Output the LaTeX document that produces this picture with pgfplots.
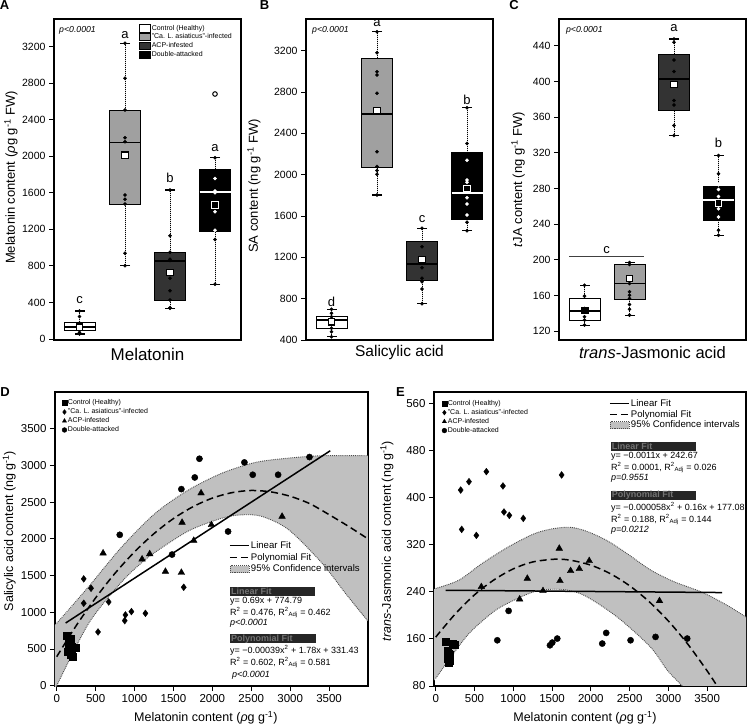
\documentclass[border=0pt]{standalone}
\usepackage{fontspec}
\setmainfont{Liberation Sans}
\usepackage{pgfplots}
\pgfplotsset{compat=1.18}
\usepgfplotslibrary{statistics}
\newcommand{\fs}[1]{\fontsize{#1}{#1}\selectfont}
\definecolor{gbox}{HTML}{A0A0A0}
\definecolor{dbox}{HTML}{333333}
\definecolor{band}{HTML}{C0C0C0}
\pgfplotsset{
  boxax/.style={scale only axis, width=187pt, height=321pt, xmin=0, xmax=187, xtick=\empty,
    ytick pos=left, tick align=outside, major tick length=5pt, axis line style={line width=1.3pt},
    tick style={line width=0.9pt, black}, clip=false, yticklabel style={font=\fs{10.5}},
    /pgf/number format/assume math mode=true, /pgf/number format/1000 sep={}},
  bxs/.style={forget plot, draw=black, line width=0.8pt, boxplot/draw direction=y, boxplot/box extend=31, boxplot/whisker extend=0,
    boxplot/every whisker/.style={densely dotted, line width=1pt, black},
    boxplot/every median/.style={line width=1.8pt, black}},
  dots/.style={only marks, mark=*, mark size=1.6pt, black, forget plot},
  wdots/.style={only marks, mark=*, mark size=1.6pt, white, forget plot},
  caps/.style={only marks, mark=-, mark size=5pt, mark options={line width=1.2pt}, black, forget plot},
  means/.style={only marks, mark=square*, mark size=3.2pt, mark options={draw=black, fill=white, line width=1.2pt}, forget plot},
  wmeans/.style={only marks, mark=square*, mark size=3.2pt, mark options={draw=white, fill=black, line width=1.2pt}, forget plot},
  scax/.style={scale only axis, width=313pt, height=294pt, xmin=-22, xmax=4000,
    xtick={0,500,...,3500}, xtick pos=left, ytick pos=left, tick align=outside, major tick length=5pt,
    axis line style={line width=1.3pt}, tick style={line width=0.9pt,black},
    ticklabel style={font=\fs{11.5}}, /pgf/number format/assume math mode=true, /pgf/number format/1000 sep={},
    legend cell align=left,
    legend image code/.code={\draw[##1] plot coordinates {(3pt,0pt)};},
    legend image post style={mark size=2.4pt},
    legend style={draw=none, fill=none, font=\fs{7}, row sep=0.2pt, inner sep=0pt, nodes={inner sep=1.1pt}}},
  bdry/.style={smooth, densely dotted, line width=0.9pt, black!70, forget plot},
  fitleg/.style={scale only axis, width=313pt, height=294pt, hide axis, xmin=0, xmax=1, ymin=0, ymax=1,
    legend cell align=left,
    legend style={draw=none, fill=none, font=\fs{9.6}, row sep=1pt, inner sep=0pt, nodes={inner sep=1.2pt}},
    legend image code/.code={\draw[##1] (0pt,0pt) -- (19pt,0pt);}},
}
\begin{document}
\begin{tikzpicture}
\useasboundingbox (0pt,0pt) rectangle (748pt,-727pt);

% ---------------- Panel A ----------------
\begin{axis}[boxax, at={(54pt,-340pt)}, anchor=south west, ymin=-11, ymax=3503, ytick={0,400,...,3200},
  ylabel={Melatonin content (\textit{ρ}g g\textsuperscript{-1} FW)},
  ylabel style={font=\fs{13}, at={(axis description cs:-0.23,0.506)}, anchor=center},
  xlabel={Melatonin}, xlabel style={font=\fs{17}, at={(axis description cs:0.5,-0.045)}, anchor=center},
  legend cell align=left,
  legend style={at={(axis description cs:0.455,0.985)}, anchor=north west, draw=none, fill=none, font=\fs{7}, row sep=0.3pt, inner sep=0pt, nodes={inner sep=1pt}},
  legend image code/.code={\draw[#1] (0pt,-3.7pt) rectangle (10.7pt,3.7pt);}]
\addlegendimage{fill=white, draw=black, line width=0.8pt}\addlegendentry{Control (Healthy)}
\addlegendimage{fill=gbox, draw=black, line width=0.8pt}\addlegendentry{"Ca. L. asiaticus"-infected}
\addlegendimage{fill=dbox, draw=black, line width=0.8pt}\addlegendentry{ACP-infested}
\addlegendimage{fill=black, draw=black, line width=0.8pt}\addlegendentry{Double-attacked}
\addplot[boxplot prepared={draw position=25.5, lower whisker=55, lower quartile=91, median=135, upper quartile=183, upper whisker=307}, bxs, fill=white] coordinates {};
\addplot[boxplot prepared={draw position=71, lower whisker=803, lower quartile=1478, median=2151, upper quartile=2507, upper whisker=3237}, bxs, fill=gbox] coordinates {};
\addplot[boxplot prepared={draw position=116, lower whisker=336, lower quartile=427, median=857, upper quartile=949, upper whisker=1631}, bxs, fill=dbox] coordinates {};
\addplot[boxplot prepared={draw position=161, lower whisker=599, lower quartile=1175, median=1613, upper quartile=1857, upper whisker=1985}, bxs, fill=black, boxplot/every median/.style={draw=white, line width=1.8pt}] coordinates {};
\addplot[caps] coordinates {(25.5,55) (25.5,307) (71,803) (71,3237) (116,336) (116,1631) (161,599) (161,1985)};
\addplot[dots] coordinates {(25.5,307) (25.5,245) (25.5,175) (25.5,150) (25.5,140) (25.5,130) (25.5,115) (25.5,95) (25.5,70) (25.5,55)
  (71,3237) (71,2854) (71,2507) (71,2204) (71,2160) (71,1576) (71,1529) (71,1478) (71,938) (71,803)
  (116,1631) (116,1131) (116,949) (116,872) (116,860) (116,664) (116,529) (116,427) (116,343) (116,336)
  (161,1985) (161,1088) (161,599)};
\addplot[wdots] coordinates {(161,1758) (161,1620) (161,1600) (161,1394) (161,1190)};
\addplot[only marks, mark=*, mark size=2.3pt, mark options={draw=black, fill=white, line width=1pt}, forget plot] coordinates {(161,2682)};
\addplot[means] coordinates {(25.5,130) (71,2011) (116,730)};
\addplot[wmeans] coordinates {(161,1467)};
\node[font=\fs{13}] at (axis cs:71,3330) {a};
\node[font=\fs{13}] at (axis cs:116,1759) {b};
\node[font=\fs{13}] at (axis cs:161,2088) {a};
\node[font=\fs{13}] at (axis cs:25.5,427) {c};
\node[font=\itshape\fs{8.7}, anchor=west, inner sep=0pt] at (axis description cs:0.027,0.966) {p<0.0001};
\end{axis}

% ---------------- Panel B ----------------
\begin{axis}[boxax, at={(306pt,-340pt)}, anchor=south west, ymin=400, ymax=3507, ytick={400,800,...,3200},
  ylabel={SA content (ng g\textsuperscript{-1} FW)},
  ylabel style={font=\fs{13}, at={(axis description cs:-0.278,0.48)}, anchor=center},
  xlabel={Salicylic acid}, xlabel style={font=\fs{15.5}, at={(axis description cs:0.5,-0.04)}, anchor=center}]
\addplot[boxplot prepared={draw position=25.5, lower whisker=432, lower quartile=513, median=594, upper quartile=626, upper whisker=697}, bxs, fill=white] coordinates {};
\addplot[boxplot prepared={draw position=71, lower whisker=1803, lower quartile=2068, median=2584, upper quartile=3126, upper whisker=3384}, bxs, fill=gbox] coordinates {};
\addplot[boxplot prepared={draw position=116, lower whisker=751, lower quartile=981, median=1139, upper quartile=1351, upper whisker=1481}, bxs, fill=dbox] coordinates {};
\addplot[boxplot prepared={draw position=161, lower whisker=1458, lower quartile=1571, median=1820, upper quartile=2213, upper whisker=2648}, bxs, fill=black, boxplot/every median/.style={draw=white, line width=1.8pt}] coordinates {};
\addplot[caps] coordinates {(25.5,432) (25.5,697) (71,1803) (71,3384) (116,751) (116,1481) (161,1458) (161,2648)};
\addplot[dots] coordinates {(25.5,697) (25.5,658) (25.5,626) (25.5,603) (25.5,580) (25.5,562) (25.5,548) (25.5,513) (25.5,480) (25.5,432)
  (71,3384) (71,3181) (71,2997) (71,2965) (71,2788) (71,2223) (71,2080) (71,2040) (71,2004) (71,1803)
  (116,1481) (116,1303) (116,1160) (116,1100) (116,997) (116,964) (116,894) (116,751)
  (161,2648) (161,2303) (161,1539) (161,1458)};
\addplot[wdots] coordinates {(161,2139) (161,1949) (161,1926) (161,1777) (161,1716) (161,1610)};
\addplot[means] coordinates {(25.5,577) (71,2623) (116,1181)};
\addplot[wmeans] coordinates {(161,1864)};
\node[font=\fs{13}] at (axis cs:71,3465) {a};
\node[font=\fs{13}] at (axis cs:116,1571) {c};
\node[font=\fs{13}] at (axis cs:161,2723) {b};
\node[font=\fs{13}] at (axis cs:25.5,771) {d};
\node[font=\itshape\fs{8.7}, anchor=west, inner sep=0pt] at (axis description cs:0.032,0.966) {p<0.0001};
\end{axis}

% ---------------- Panel C ----------------
\begin{axis}[boxax, at={(559pt,-340pt)}, anchor=south west, ymin=110, ymax=470, ytick={120,160,...,440},
  ylabel={\textit{t}JA content (ng g\textsuperscript{-1} FW)},
  ylabel style={font=\fs{13}, at={(axis description cs:-0.219,0.5)}, anchor=center},
  xlabel={\textit{trans}-Jasmonic acid}, xlabel style={font=\fs{16.5}, at={(axis description cs:0.5,-0.04)}, anchor=center}]
\addplot[line width=1.2pt, black!75, forget plot] coordinates {(10.3,203.9) (85.3,203.9)};
\addplot[boxplot prepared={draw position=25.5, lower whisker=126.7, lower quartile=132.3, median=142.4, upper quartile=156.6, upper whisker=171.5}, bxs, fill=white] coordinates {};
\addplot[boxplot prepared={draw position=70.5, lower whisker=137.9, lower quartile=155.8, median=173.3, upper quartile=194.6, upper whisker=196.8}, bxs, fill=gbox] coordinates {};
\addplot[boxplot prepared={draw position=115, lower whisker=339.3, lower quartile=367.3, median=402.7, upper quartile=430.3, upper whisker=447.5}, bxs, fill=dbox] coordinates {};
\addplot[boxplot prepared={draw position=159.5, lower whisker=227.4, lower quartile=244.2, median=267.3, upper quartile=282.3, upper whisker=316.9}, bxs, fill=black, boxplot/every median/.style={draw=white, line width=1.8pt}] coordinates {};
\addplot[caps] coordinates {(25.5,126.7) (25.5,171.5) (70.5,137.9) (70.5,196.8) (115,339.3) (115,447.5) (159.5,227.4) (159.5,316.9)};
\addplot[dots] coordinates {(25.5,171.5) (25.5,159.2) (25.5,145.4) (25.5,143.5) (25.5,141.6) (25.5,136) (25.5,132.3) (25.5,126.7)
  (70.5,196.8) (70.5,194.6) (70.5,173.3) (70.5,164) (70.5,160.3) (70.5,156.6) (70.5,149.8) (70.5,144.6) (70.5,137.9)
  (115,447.5) (115,443.8) (115,424) (115,411) (115,378.5) (115,373.6) (115,350.5) (115,339.3)
  (159.5,316.9) (159.5,296.4) (159.5,233) (159.5,227.4)};
\addplot[wdots] coordinates {(159.5,284) (159.5,278.8) (159.5,271) (159.5,262.9) (159.5,257.3) (159.5,248)};
\addplot[only marks, mark=square*, mark size=3.2pt, black, forget plot] coordinates {(25.5,143.5)};
\addplot[means] coordinates {(70.5,178.9) (115,396.4)};
\addplot[wmeans] coordinates {(159.5,263.6)};
\node[font=\fs{13}] at (axis cs:115,459.4) {a};
\node[font=\fs{13}] at (axis cs:159.5,330.7) {b};
\node[font=\fs{13}] at (axis cs:47.5,211.4) {c};
\node[font=\itshape\fs{8.7}, anchor=west, inner sep=0pt] at (axis description cs:0.037,0.966) {p<0.0001};
\end{axis}

% ---------------- Panel D ----------------
\begin{axis}[scax, at={(55pt,-686pt)}, anchor=south west, ymin=-4, ymax=4000, ytick={0,500,...,3500},
  xlabel={Melatonin content (\textit{ρ}g g\textsuperscript{-1})},
  xlabel style={font=\fs{12.5}, at={(axis description cs:0.482,-0.109)}, anchor=center},
  ylabel={Salicylic acid content (ng g\textsuperscript{-1})},
  ylabel style={font=\fs{12.5}, at={(axis description cs:-0.146,0.527)}, anchor=center},
  legend style={at={(axis description cs:0.022,0.978)}, anchor=north west}]
\addplot[smooth, fill=band, draw=none, forget plot] coordinates {
  (-300,600) (0,850) (411,1350) (840,1895) (1268,2350) (1697,2668) (2125,2895) (2554,3041) (2982,3100) (3410,3132) (4000,3132) (4300,3132)
  (4300,650) (4000,880) (3710,1259) (3410,1668) (2982,2123) (2639,2305) (2382,2327) (2125,2282) (1697,2110) (1268,1820) (1097,1680) (840,1420) (411,850) (0,0) (-300,-600)} -- cycle;
\addplot[bdry] coordinates {
  (0,850) (411,1350) (840,1895) (1268,2350) (1697,2668) (2125,2895) (2554,3041) (2982,3100) (3410,3132) (4000,3132)};
\addplot[bdry] coordinates {
  (0,0) (411,850) (840,1420) (1097,1680) (1268,1820) (1697,2110) (2125,2282) (2382,2327) (2639,2305) (2982,2123) (3410,1668) (3710,1259) (4000,880)};
\addplot[line width=1.5pt, black, forget plot] coordinates {(115,854) (3515,3200)};
\addplot[smooth, line width=1.5pt, black, dash pattern=on 7pt off 4pt, forget plot] coordinates {
  (0,395) (250,817) (500,1196) (750,1532) (1000,1823) (1250,2071) (1500,2276) (1750,2437) (2000,2555) (2250,2629) (2500,2659) (2750,2640) (3000,2580) (3250,2480) (3500,2330) (3750,2170) (4000,2000)};
\addplot[only marks, mark=square*, mark size=3.6pt, black] coordinates {(133,677) (176,645) (154,577) (197,532) (240,523) (146,464) (176,418) (206,395) (163,614) (189,486)};
\addlegendentry{Control (Healthy)}
\addplot[only marks, mark=diamond*, mark size=3.4pt, black] coordinates {(347,1455) (441,1327) (347,1123) (668,1141) (531,732) (883,964) (960,1009) (874,886) (1140,986) (1632,1341)};
\addlegendentry{"Ca. L. asiaticus"-infected}
\addplot[only marks, mark=triangle*, mark size=3.8pt, black] coordinates {(596,1805) (1097,1723) (1195,1795) (1397,1555) (1602,1541) (1611,2223) (1761,1977) (1855,2623) (1988,2191) (2896,2305)};
\addlegendentry{ACP-infested}
\addplot[only marks, mark=*, mark size=3.1pt, black] coordinates {(810,2055) (1482,1786) (1602,2677) (1774,2836) (1834,3091) (2202,2100) (2412,3041) (2519,2873) (2845,2873) (3248,3114)};
\addlegendentry{Double-attacked}
\end{axis}
\begin{axis}[fitleg, at={(55pt,-686pt)}, anchor=south west,
  legend style={at={(axis description cs:0.556,0.497)}, anchor=north west}]
\addplot[draw=none, forget plot] coordinates {(0,0) (1,1)};
\addlegendimage{line width=1.5pt, black}\addlegendentry{Linear Fit}
\addlegendimage{line width=1.5pt, black, dash pattern=on 7pt off 4pt}\addlegendentry{Polynomial Fit}
\addlegendimage{legend image code/.code={\draw[fill=band, draw=black!70, densely dotted, line width=0.9pt] (0pt,-3.5pt) rectangle (19pt,3.5pt);}}\addlegendentry{95\% Confidence intervals}
\end{axis}

% ---------------- Panel E ----------------
\begin{axis}[scax, at={(434pt,-686pt)}, anchor=south west, width=312pt, ymin=80, ymax=579, ytick={80,160,...,560},
  xlabel={Melatonin content (\textit{ρ}g g\textsuperscript{-1})},
  xlabel style={font=\fs{12.5}, at={(axis description cs:0.484,-0.109)}, anchor=center},
  ylabel={\textit{trans}-Jasmonic acid content (ng g\textsuperscript{-1})},
  ylabel style={font=\fs{12.5}, at={(axis description cs:-0.151,0.493)}, anchor=center},
  legend style={at={(axis description cs:0.025,0.976)}, anchor=north west}]
\addplot[smooth, fill=band, draw=none, forget plot] coordinates {
  (-300,230) (0,245.5) (299,259.6) (598,288) (939,316.3) (1280,339) (1536,347.5) (1750,349.2) (1963,341.8) (2219,326) (2475,304) (2769,277) (3073,257) (3436,239) (3756,217) (4000,197) (4300,170)
  (4300,-120) (4000,-60) (3700,-5) (3400,45) (3177,80) (2984,107) (2769,146) (2340,197) (1911,234) (1610,244) (1267,240) (837,214) (598,190) (408,166) (200,130) (0,93) (-300,40)} -- cycle;
\addplot[bdry] coordinates {
  (0,245.5) (299,259.6) (598,288) (939,316.3) (1280,339) (1536,347.5) (1750,349.2) (1963,341.8) (2219,326) (2475,304) (2769,277) (3073,257) (3436,239) (3756,217) (4000,197)};
\addplot[bdry] coordinates {
  (0,93) (200,130) (408,166) (598,190) (837,214) (1267,240) (1610,244) (1911,234) (2340,197) (2769,146) (2984,107) (3177,80) (3400,45)};
\addplot[line width=1.5pt, black, forget plot] coordinates {(129,242.5) (3693,238.6)};
\addplot[smooth, line width=1.5pt, black, dash pattern=on 7pt off 4pt, forget plot] coordinates {
  (0,163) (250,202) (500,234.7) (750,260) (1000,278.8) (1250,290.5) (1546,295.3) (1750,293.2) (2000,285.1) (2250,270.7) (2500,250.1) (2750,223.3) (3000,190.2) (3250,151) (3500,105.5) (3628,80) (3700,65)};
\addplot[only marks, mark=square*, mark size=3.6pt, black] coordinates {(129,155) (215,152) (245,150) (150,140) (170,135) (160,130) (150,126) (175,123) (165,120) (185,133)};
\addlegendentry{Control (Healthy)}
\addplot[only marks, mark=diamond*, mark size=3.4pt, black] coordinates {(322,412.6) (429,426.8) (653,443.8) (867,419.5) (1623,438.2) (335,345.8) (524,335.6) (880,375.3) (949,369.6) (1129,364.5)};
\addlegendentry{"Ca. L. asiaticus"-infected}
\addplot[only marks, mark=triangle*, mark size=3.8pt, black] coordinates {(588,248.3) (1082,227.3) (1181,262.5) (1383,241.5) (1593,313.5) (1602,258.5) (1739,275.5) (1851,278.9) (1979,292.5) (2885,224.5)};
\addlegendentry{ACP-infested}
\addplot[only marks, mark=*, mark size=3.1pt, black] coordinates {(940,207.5) (794,157.6) (1473,149.1) (1503,153.7) (1567,160.5) (2147,152) (2198,170.1) (2512,157.6) (2834,163.3) (3242,160.5)};
\addlegendentry{Double-attacked}
\end{axis}
\begin{axis}[fitleg, at={(434pt,-686pt)}, anchor=south west, width=312pt,
  legend style={at={(axis description cs:0.561,0.98)}, anchor=north west, row sep=0pt}]
\addplot[draw=none, forget plot] coordinates {(0,0) (1,1)};
\addlegendimage{line width=1.5pt, black}\addlegendentry{Linear Fit}
\addlegendimage{line width=1.5pt, black, dash pattern=on 7pt off 4pt}\addlegendentry{Polynomial Fit}
\addlegendimage{legend image code/.code={\draw[fill=band, draw=black!70, densely dotted, line width=0.9pt] (0pt,-3.5pt) rectangle (19pt,3.5pt);}}\addlegendentry{95\% Confidence intervals}
\end{axis}

% ---------------- annotations ----------------
\begin{scope}[every node/.style={inner sep=0pt, anchor=west, font=\fs{9}}]
\fill[black!85] (230pt,-587pt) rectangle (315pt,-596pt);
\node[font=\bfseries\fs{9}, text=black!55] at (231pt,-591.5pt) {Linear Fit};
\node at (230pt,-601.7pt) {y= 0.69x + 774.79};
\node at (230pt,-612.7pt) {R\textsuperscript{2} = 0.476, R\textsuperscript{2}\textsubscript{Adj} = 0.462};
\node[font=\itshape\fs{9}] at (230pt,-623pt) {p<0.0001};
\fill[black!85] (230pt,-634.3pt) rectangle (316pt,-643.3pt);
\node[font=\bfseries\fs{9}, text=black!55] at (231pt,-638.8pt) {Polynomial Fit};
\node at (230pt,-650.7pt) {y= −0.00039x\textsuperscript{2} + 1.78x + 331.43};
\node at (230pt,-662.3pt) {R\textsuperscript{2} = 0.602, R\textsuperscript{2}\textsubscript{Adj} = 0.581};
\node[font=\itshape\fs{9}] at (232pt,-675pt) {p<0.0001};

\fill[black!85] (610.7pt,-441.7pt) rectangle (695.7pt,-451pt);
\node[font=\bfseries\fs{9}, text=black!55] at (611.7pt,-446.3pt) {Linear Fit};
\node at (611pt,-456.7pt) {y= −0.0011x + 242.67};
\node at (611pt,-467.7pt) {R\textsuperscript{2} = 0.0001, R\textsuperscript{2}\textsubscript{Adj} = 0.026};
\node[font=\itshape\fs{9}] at (611pt,-478.3pt) {p=0.9551};
\fill[black!85] (610.7pt,-490.7pt) rectangle (696pt,-500pt);
\node[font=\bfseries\fs{9}, text=black!55] at (611.7pt,-495.3pt) {Polynomial Fit};
\node at (611pt,-507.3pt) {y= −0.000058x\textsuperscript{2} + 0.16x + 177.08};
\node at (611pt,-519.3pt) {R\textsuperscript{2} = 0.188, R\textsuperscript{2}\textsubscript{Adj} = 0.144};
\node[font=\itshape\fs{9}] at (611pt,-530.7pt) {p=0.0212};
\end{scope}

\node[font=\bfseries\fs{13}] at (4.5pt,-5.5pt) {A};
\node[font=\bfseries\fs{13}] at (264.5pt,-5.5pt) {B};
\node[font=\bfseries\fs{13}] at (514pt,-5.5pt) {C};
\node[font=\bfseries\fs{13}] at (5pt,-392pt) {D};
\node[font=\bfseries\fs{13}] at (400.5pt,-392pt) {E};
\end{tikzpicture}
\end{document}
